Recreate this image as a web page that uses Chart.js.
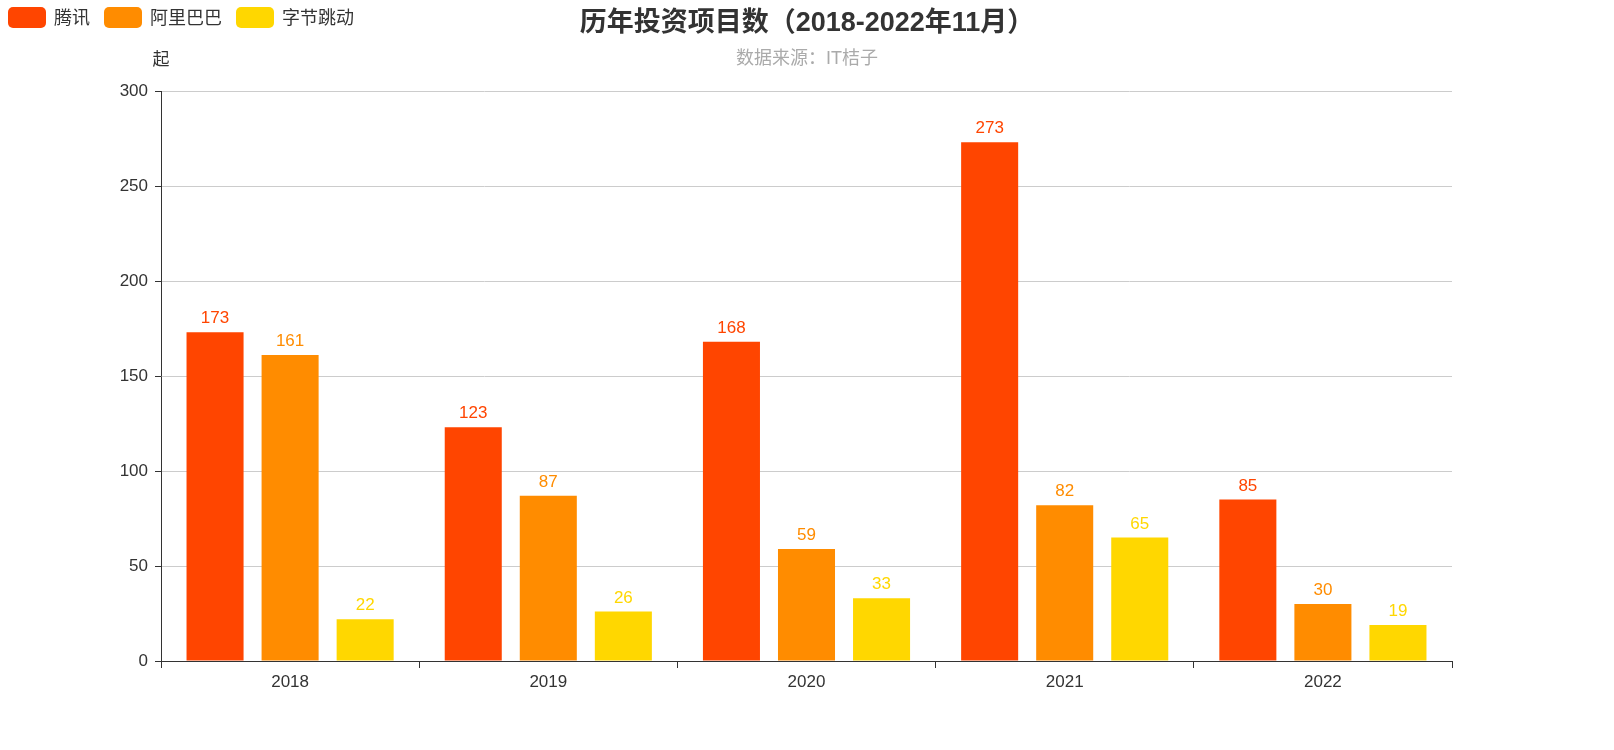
<!DOCTYPE html>
<html lang="zh">
<head>
<meta charset="utf-8">
<title>历年投资项目数</title>
<script src="https://cdn.jsdelivr.net/npm/chart.js@4.4.0/dist/chart.umd.min.js"></script>
<style>
  html, body { margin: 0; padding: 0; background: #fff; }
  #wrap { width: 1614px; height: 750px; }
</style>
</head>
<body>
<div id="wrap"><canvas id="chart" width="1614" height="750"></canvas></div>
<script>
// Chart data
const years = ['2018', '2019', '2020', '2021', '2022'];
const tencent = [173, 123, 168, 273, 85];
const alibaba = [161, 87, 59, 82, 30];
const bytedance = [22, 26, 33, 65, 19];
const seriesNames = ['腾讯', '阿里巴巴', '字节跳动'];
const seriesColors = ['#ff4500', '#ff8c00', '#ffd700'];
const yTicks = [0, 50, 100, 150, 200, 250, 300];

const titleText = '历年投资项目数（2018-2022年11月）';
const subtitleText = '数据来源：IT桔子';
const unitText = '起';

const FONT = '"Liberation Sans", "Noto Sans CJK SC", sans-serif';

// Value labels above each bar
const barLabels = {
    id: 'barLabels',
    afterDatasetsDraw(chart) {
        const ctx = chart.ctx;
        ctx.save();
        ctx.font = '17px ' + FONT;
        ctx.textAlign = 'center';
        ctx.textBaseline = 'alphabetic';
        chart.data.datasets.forEach((ds, i) => {
            const meta = chart.getDatasetMeta(i);
            ctx.fillStyle = ds.backgroundColor;
            meta.data.forEach((bar, j) => {
                ctx.fillText(ds.data[j], bar.x, bar.y - 9);
            });
        });
        ctx.restore();
    }
};

// Title, subtitle, unit label and legend
const header = {
    id: 'header',
    afterDraw(chart) {
        const ctx = chart.ctx;
        const area = chart.chartArea;
        const cx = chart.width / 2;
        ctx.save();
        ctx.textAlign = 'center';
        ctx.textBaseline = 'middle';

        ctx.fillStyle = '#333';
        ctx.font = 'bold 27px ' + FONT;
        ctx.fillText(titleText, cx, 24);

        ctx.fillStyle = '#aaa';
        ctx.font = '18px ' + FONT;
        ctx.fillText(subtitleText, cx, 59);

        ctx.fillStyle = '#333';
        ctx.font = '17px ' + FONT;
        ctx.fillText(unitText, area.left, area.top - 31);

        // legend
        ctx.textAlign = 'left';
        ctx.font = '18px ' + FONT;
        let x = 8;
        chart.data.datasets.forEach(ds => {
            ctx.fillStyle = ds.backgroundColor;
            ctx.beginPath();
            ctx.roundRect(x, 7, 38, 21, 5);
            ctx.fill();
            ctx.fillStyle = '#333';
            ctx.fillText(ds.label, x + 46, 19);
            x += 46 + ctx.measureText(ds.label).width + 14;
        });
        ctx.restore();
    }
};

const datasets = [tencent, alibaba, bytedance].map((values, i) => ({
    label: seriesNames[i],
    data: values,
    backgroundColor: seriesColors[i],
    borderWidth: 0,
    categoryPercentage: 0.872,
    barPercentage: 0.76
}));

const ctx = document.getElementById('chart').getContext('2d');
const chart = new Chart(ctx, {
    type: 'bar',
    data: {
        labels: years,
        datasets: datasets
    },
    options: {
        responsive: false,
        animation: false,
        layout: {
            padding: { top: 91, left: 0, right: 162, bottom: 0 }
        },
        plugins: {
            legend: { display: false },
            title: { display: false },
            tooltip: { enabled: false }
        },
        scales: {
            x: {
                grid: {
                    drawOnChartArea: false,
                    drawTicks: true,
                    tickLength: 7,
                    tickColor: '#333',
                    offset: true
                },
                border: { color: '#333', width: 1 },
                ticks: {
                    color: '#333',
                    padding: 4,
                    font: { family: FONT, size: 17 }
                },
                afterFit(scale) {
                    scale.height = 89;
                }
            },
            y: {
                min: 0,
                max: 300,
                afterBuildTicks(scale) {
                    scale.ticks = yTicks.map(v => ({ value: v }));
                },
                grid: {
                    color: '#ccc',
                    tickColor: '#333',
                    tickLength: 6
                },
                border: { color: '#333', width: 1 },
                ticks: {
                    color: '#333',
                    padding: 7,
                    font: { family: FONT, size: 17 }
                },
                afterFit(scale) {
                    scale.width = 161;
                }
            }
        }
    },
    plugins: [barLabels, header]
});
</script>
</body>
</html>
